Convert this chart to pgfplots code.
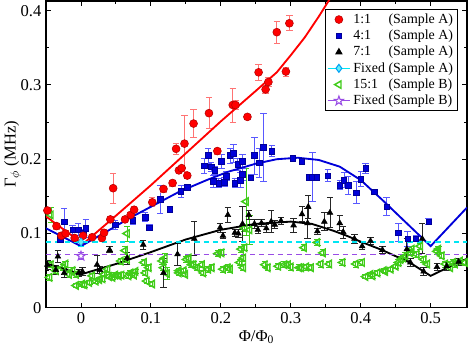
\documentclass[border=0pt]{standalone}
\usepackage{fontspec}
\setmainfont{Liberation Serif}
\usepackage{pgfplots}
\pgfplotsset{compat=1.18}
\usetikzlibrary{plotmarks}

\definecolor{ptred}{rgb}{1,0,0}
\definecolor{errred}{rgb}{1,0.45,0.45}
\definecolor{ptblue}{rgb}{0,0,0.85}
\definecolor{errblue}{rgb}{0.35,0.35,1}
\definecolor{ptgreen}{rgb}{0.25,0.8,0.1}
\definecolor{fixcyan}{rgb}{0,0.9,0.95}
\definecolor{fixpurple}{rgb}{0.6,0.3,0.9}

% five-pointed star outline (MATLAB 'p')
\pgfdeclareplotmark{pentagram}{%
  \pgfpathmoveto{\pgfpointpolar{90}{\pgfplotmarksize}}%
  \pgfpathlineto{\pgfpointpolar{126}{0.4\pgfplotmarksize}}%
  \pgfpathlineto{\pgfpointpolar{162}{\pgfplotmarksize}}%
  \pgfpathlineto{\pgfpointpolar{198}{0.4\pgfplotmarksize}}%
  \pgfpathlineto{\pgfpointpolar{234}{\pgfplotmarksize}}%
  \pgfpathlineto{\pgfpointpolar{270}{0.4\pgfplotmarksize}}%
  \pgfpathlineto{\pgfpointpolar{306}{\pgfplotmarksize}}%
  \pgfpathlineto{\pgfpointpolar{342}{0.4\pgfplotmarksize}}%
  \pgfpathlineto{\pgfpointpolar{18}{\pgfplotmarksize}}%
  \pgfpathlineto{\pgfpointpolar{54}{0.4\pgfplotmarksize}}%
  \pgfpathclose
  \pgfusepathqfillstroke}

\newlength\lw
\begin{document}
\settowidth{\lw}{\fontsize{10.5}{12.5}\selectfont Fixed\ }
\begin{tikzpicture}
\useasboundingbox (-32.25pt,-31.5pt) rectangle (319.5pt,232.5pt);
\begin{axis}[
    scale only axis,
    width=318pt, height=231.75pt,
    xmin=-0.05, xmax=0.552,
    ymin=0, ymax=0.413,
    xtick={0,0.1,0.2,0.3,0.4,0.5},
    ytick={0,0.1,0.2,0.3,0.4},
    minor tick num=1,
    tick align=inside,
    major tick length=4pt, minor tick length=2.5pt,
    axis line style={line width=0.9pt},
    every tick/.style={black, line width=0.7pt},
    /pgf/number format/assume math mode=true,
    ticklabel style={font=\fontsize{12.5}{14}\selectfont},
    label style={font=\fontsize{12.5}{14}\selectfont},
    xlabel={Φ/Φ\textsubscript{0}},
    ylabel={Γ$_\phi$ (MHz)},
    xlabel style={yshift=2pt},
    ylabel style={yshift=-7pt},
    legend style={at={(0.978,0.974)}, anchor=north east, draw=black,
        line width=0.8pt, font=\fontsize{10.5}{12.5}\selectfont,
        cells={anchor=west}, inner sep=1.2pt, row sep=-0.5pt},
    legend cell align=left,
    error bars/error bar style={line width=0.6pt},
    error bars/error mark options={rotate=90, mark size=2.4pt, line width=0.6pt},
]
% legend entries
\addlegendimage{only marks, mark=*, mark size=3pt, mark options={fill=ptred, draw=ptred!70!black, line width=0.4pt}}
\addlegendentry{\makebox[\lw][l]{1:1}(Sample A)}
\addlegendimage{only marks, mark=square*, mark size=2.1pt, mark options={fill=ptblue, draw=ptblue!70!black, line width=0.4pt}}
\addlegendentry{\makebox[\lw][l]{4:1}(Sample A)}
\addlegendimage{only marks, mark=triangle*, mark size=2.5pt, mark options={fill=black, draw=black}}
\addlegendentry{\makebox[\lw][l]{7:1}(Sample A)}
\addlegendimage{fixcyan, line width=0.8pt, mark=diamond*, mark size=3pt, mark options={fill=fixcyan!60, draw=fixcyan!70!blue, solid}}
\addlegendentry{Fixed (Sample A)}
\addlegendimage{only marks, mark=triangle, mark size=3.2pt, mark options={draw=ptgreen, rotate=90, line width=1.1pt}}
\addlegendentry{\makebox[\lw][l]{15:1}(Sample B)}
\addlegendimage{fixpurple, line width=0.8pt, mark=pentagram, mark size=3.6pt, mark options={fill=white, draw=fixpurple, line width=0.8pt, solid}}
\addlegendentry{Fixed (Sample B)}

% 15:1 sample B
\addplot[forget plot, only marks, mark=triangle, mark size=3.2pt,
    mark options={draw=ptgreen, rotate=90, line width=1.1pt},
    error bars/.cd, y dir=both, y explicit,
    error bar style={ptgreen}, error mark options={ptgreen, rotate=90, mark size=2.4pt, line width=0.6pt}]
coordinates {
(-0.043,0.125)+-(0,0.010) (-0.045,0.041)+-(0,0.004) (-0.043,0.058)+-(0,0.004)
(-0.036,0.050)+-(0,0.004) (-0.026,0.054)+-(0,0.004) (-0.022,0.059)+-(0,0.004)
(-0.017,0.045)+-(0,0.004) (-0.012,0.050)+-(0,0.004) (-0.007,0.045)+-(0,0.004)
(-0.007,0.030)+-(0,0.003) (0.002,0.032)+-(0,0.003) (0.005,0.031)+-(0,0.003)
(0.012,0.034)+-(0,0.003) (0.016,0.043)+-(0,0.003) (0.021,0.036)+-(0,0.003)
(0.026,0.038)+-(0,0.003) (0.031,0.039)+-(0,0.003) (0.033,0.045)+-(0,0.003)
(0.038,0.052)+-(0,0.004) (0.040,0.042)+-(0,0.003) (0.045,0.041)+-(0,0.003)
(0.049,0.044)+-(0,0.003) (0.054,0.043)+-(0,0.003) (0.057,0.063)+-(0,0.004)
(0.058,0.044)+-(0,0.003) (0.063,0.077)+-(0,0.005) (0.066,0.100)+-(0,0.010)
(0.066,0.065)+-(0,0.004) (0.068,0.043)+-(0,0.003) (0.071,0.047)+-(0,0.003)
(0.076,0.044)+-(0,0.003) (0.078,0.049)+-(0,0.003) (0.090,0.061)+-(0,0.004)
(0.092,0.047)+-(0,0.003) (0.094,0.036)+-(0,0.003) (0.097,0.054)+-(0,0.004)
(0.102,0.032)+-(0,0.003) (0.116,0.063)+-(0,0.004) (0.118,0.054)+-(0,0.004)
(0.120,0.067)+-(0,0.006) (0.123,0.046)+-(0,0.008) (0.140,0.047)+-(0,0.003)
(0.140,0.050)+-(0,0.003) (0.147,0.050)+-(0,0.003) (0.149,0.045)+-(0,0.003)
(0.151,0.065)+-(0,0.004) (0.154,0.067)+-(0,0.004) (0.158,0.058)+-(0,0.004)
(0.161,0.058)+-(0,0.004) (0.166,0.054)+-(0,0.004) (0.173,0.058)+-(0,0.004)
(0.175,0.047)+-(0,0.003) (0.182,0.052)+-(0,0.004) (0.187,0.054)+-(0,0.004)
(0.196,0.073)+-(0,0.004) (0.201,0.074)+-(0,0.004) (0.203,0.052)+-(0,0.004)
(0.210,0.054)+-(0,0.004) (0.213,0.052)+-(0,0.004) (0.227,0.061)+-(0,0.004)
(0.229,0.079)+-(0,0.004) (0.232,0.054)+-(0,0.004) (0.232,0.067)+-(0,0.004)
(0.234,0.081)+-(0,0.004) (0.234,0.107)+-(0,0.004) (0.236,0.143)+-(0,0.045)
(0.241,0.105)+-(0,0.020) (0.263,0.058)+-(0,0.004) (0.267,0.054)+-(0,0.004)
(0.282,0.056)+-(0,0.004) (0.291,0.058)+-(0,0.004) (0.296,0.058)+-(0,0.004)
(0.300,0.055)+-(0,0.004) (0.312,0.054)+-(0,0.004) (0.315,0.054)+-(0,0.004)
(0.319,0.081)+-(0,0.004) (0.322,0.055)+-(0,0.004) (0.329,0.054)+-(0,0.004)
(0.338,0.088)+-(0,0.004) (0.343,0.059)+-(0,0.004) (0.346,0.074)+-(0,0.004)
(0.355,0.059)+-(0,0.004) (0.374,0.061)+-(0,0.004) (0.393,0.059)+-(0,0.004)
(0.402,0.061)+-(0,0.004) (0.407,0.042)+-(0,0.003) (0.414,0.045)+-(0,0.003)
(0.417,0.043)+-(0,0.003) (0.424,0.047)+-(0,0.003) (0.433,0.050)+-(0,0.003)
(0.435,0.049)+-(0,0.003) (0.443,0.052)+-(0,0.003) (0.450,0.056)+-(0,0.003)
(0.454,0.061)+-(0,0.004) (0.457,0.065)+-(0,0.004) (0.461,0.067)+-(0,0.004)
(0.464,0.070)+-(0,0.004) (0.471,0.074)+-(0,0.004) (0.473,0.079)+-(0,0.004)
(0.480,0.072)+-(0,0.004) (0.485,0.083)+-(0,0.004) (0.490,0.065)+-(0,0.004)
(0.495,0.059)+-(0,0.004) (0.509,0.076)+-(0,0.004) (0.511,0.079)+-(0,0.004)
(0.516,0.070)+-(0,0.004) (0.521,0.059)+-(0,0.004) (0.528,0.054)+-(0,0.004)
(0.532,0.061)+-(0,0.004) (0.535,0.059)+-(0,0.004) (0.542,0.063)+-(0,0.004)
(0.549,0.061)+-(0,0.004)
};

% 7:1 sample A
\addplot[forget plot, only marks, mark=triangle*, mark size=2.5pt,
    mark options={fill=black, draw=black},
    error bars/.cd, y dir=both, y explicit,
    error bar style={black!85}, error mark options={black!85, rotate=90, mark size=2.4pt, line width=0.6pt}]
coordinates {
(-0.048,0.058)+-(0,0.006) (-0.033,0.069)+-(0,0.008) (-0.036,0.051)+-(0,0.006)
(-0.024,0.047)+-(0,0.006) (-0.003,0.047)+-(0,0.005) (0.002,0.049)+-(0,0.005)
(0.023,0.058)+-(0,0.012) (0.027,0.051)+-(0,0.005) (0.041,0.078)+-(0,0.004)
(0.066,0.067)+-(0,0.008) (0.089,0.085)+-(0,0.006) (0.118,0.047)+-(0,0.020)
(0.138,0.072)+-(0,0.015) (0.162,0.093)+-(0,0.023) (0.199,0.108)+-(0,0.006)
(0.203,0.097)+-(0,0.004) (0.210,0.125)+-(0,0.010) (0.220,0.101)+-(0,0.005)
(0.225,0.100)+-(0,0.005) (0.231,0.113)+-(0,0.023) (0.240,0.125)+-(0,0.006)
(0.248,0.113)+-(0,0.006) (0.253,0.105)+-(0,0.005) (0.258,0.114)+-(0,0.005)
(0.265,0.107)+-(0,0.005) (0.272,0.116)+-(0,0.015) (0.277,0.112)+-(0,0.005)
(0.286,0.117)+-(0,0.005) (0.304,0.111)+-(0,0.010) (0.316,0.126)+-(0,0.010)
(0.325,0.136)+-(0,0.015) (0.324,0.114)+-(0,0.020) (0.338,0.103)+-(0,0.004)
(0.348,0.116)+-(0,0.012) (0.356,0.128)+-(0,0.020) (0.370,0.114)+-(0,0.010)
(0.375,0.102)+-(0,0.008) (0.391,0.093)+-(0,0.006) (0.402,0.083)+-(0,0.005)
(0.414,0.090)+-(0,0.005) (0.431,0.078)+-(0,0.005) (0.466,0.079)+-(0,0.015)
(0.471,0.061)+-(0,0.005) (0.488,0.093)+-(0,0.020) (0.490,0.049)+-(0,0.005)
(0.509,0.055)+-(0,0.005) (0.523,0.056)+-(0,0.005) (0.540,0.062)+-(0,0.005)
};

% 4:1 sample A
\addplot[forget plot, only marks, mark=square*, mark size=2.1pt,
    mark options={fill=ptblue, draw=ptblue!70!black, line width=0.4pt},
    error bars/.cd, y dir=both, y explicit,
    error bar style={errblue}, error mark options={errblue, rotate=90, mark size=2.4pt, line width=0.6pt}]
coordinates {
(-0.030,0.092)+-(0,0.004) (-0.024,0.116)+-(0,0.018) (-0.012,0.105)+-(0,0.006)
(-0.004,0.105)+-(0,0.008) (0.003,0.101)+-(0,0.004) (0.007,0.107)+-(0,0.012)
(0.049,0.112)+-(0,0.006) (0.074,0.118)+-(0,0.006) (0.092,0.122)+-(0,0.006)
(0.098,0.108)+-(0,0.004) (0.113,0.146)+-(0,0.019) (0.127,0.133)+-(0,0.004)
(0.143,0.157)+-(0,0.008) (0.152,0.162)+-(0,0.004) (0.176,0.191)+-(0,0.010)
(0.182,0.205)+-(0,0.010) (0.186,0.190)+-(0,0.006) (0.189,0.170)+-(0,0.008)
(0.191,0.185)+-(0,0.006) (0.197,0.168)+-(0,0.006) (0.201,0.197)+-(0,0.010)
(0.205,0.169)+-(0,0.006) (0.208,0.177)+-(0,0.006) (0.213,0.205)+-(0,0.010)
(0.218,0.208)+-(0,0.012) (0.220,0.168)+-(0,0.006) (0.224,0.193)+-(0,0.008)
(0.228,0.172)+-(0,0.010) (0.231,0.197)+-(0,0.010) (0.231,0.180)+-(0,0.008)
(0.243,0.175)+-(0,0.004) (0.248,0.205)+-(0,0.025) (0.255,0.195)+-(0,0.020)
(0.261,0.216)+-(0,0.046) (0.273,0.211)+-(0,0.007) (0.303,0.201)+-(0,0.003)
(0.316,0.197)+-(0,0.003) (0.326,0.176)+-(0,0.004) (0.331,0.176)+-(0,0.033)
(0.337,0.176)+-(0,0.004) (0.353,0.178)+-(0,0.008) (0.370,0.165)+-(0,0.006)
(0.376,0.172)+-(0,0.010) (0.382,0.165)+-(0,0.012) (0.394,0.155)+-(0,0.015)
(0.400,0.173)+-(0,0.010) (0.407,0.188)+-(0,0.007) (0.419,0.156)+-(0,0.004)
(0.437,0.136)+-(0,0.012) (0.454,0.101)+-(0,0.012) (0.467,0.093)+-(0,0.010)
(0.479,0.093)+-(0,0.004) (0.497,0.116)+-(0,0.004)
};

% 1:1 sample A
\addplot[forget plot, only marks, mark=*, mark size=3pt,
    mark options={fill=ptred, draw=ptred!70!black, line width=0.4pt},
    error bars/.cd, y dir=both, y explicit,
    error bar style={errred}, error mark options={errred, rotate=90, mark size=2.4pt, line width=0.6pt}]
coordinates {
(-0.048,0.131)+-(0,0.004) (-0.035,0.110)+-(0,0.004) (-0.028,0.097)+-(0,0.004)
(-0.022,0.100)+-(0,0.004) (-0.009,0.094)+-(0,0.004) (0.003,0.097)+-(0,0.004)
(0.016,0.095)+-(0,0.004) (0.030,0.094)+-(0,0.004) (0.033,0.101)+-(0,0.004)
(0.042,0.119)+-(0,0.004) (0.046,0.161)+-(0,0.020) (0.063,0.119)+-(0,0.004)
(0.071,0.125)+-(0,0.004) (0.076,0.132)+-(0,0.004) (0.102,0.142)+-(0,0.006)
(0.118,0.160)+-(0,0.004) (0.131,0.168)+-(0,0.004) (0.136,0.214)+-(0,0.007)
(0.140,0.185)+-(0,0.004) (0.144,0.188)+-(0,0.004) (0.148,0.221)+-(0,0.038)
(0.152,0.178)+-(0,0.004) (0.161,0.248)+-(0,0.019) (0.183,0.262)+-(0,0.021)
(0.195,0.211)+-(0,0.004) (0.217,0.273)+-(0,0.023) (0.221,0.273)+-(0,0.006)
(0.238,0.257)+-(0,0.004) (0.254,0.317)+-(0,0.011) (0.264,0.294)+-(0,0.005)
(0.268,0.304)+-(0,0.006) (0.280,0.371)+-(0,0.015) (0.293,0.318)+-(0,0.006)
(0.298,0.383)+-(0,0.010)
};

% fitted curves
\addplot[forget plot, ptred, line width=1.4pt] coordinates {
(-0.05,0.123) (0.003,0.086) (0.05,0.124) (0.1,0.165) (0.15,0.208) (0.2,0.251)
(0.25,0.292) (0.28,0.317) (0.3,0.340) (0.32,0.364) (0.34,0.392) (0.36,0.422)
};
\addplot[forget plot, ptblue, line width=1.4pt] coordinates {
(-0.05,0.107) (0,0.083) (0.03,0.099) (0.07,0.121) (0.1,0.136) (0.14,0.156)
(0.18,0.172) (0.21,0.183) (0.25,0.194) (0.28,0.200) (0.31,0.202) (0.34,0.199)
(0.37,0.190) (0.4,0.172) (0.43,0.146) (0.46,0.119) (0.48,0.101) (0.5,0.083)
(0.552,0.135)
};
\addplot[forget plot, black, line width=1.4pt] coordinates {
(-0.05,0.060) (0,0.045) (0.05,0.059) (0.1,0.075) (0.15,0.092) (0.2,0.105)
(0.25,0.113) (0.3,0.116) (0.33,0.113) (0.36,0.104) (0.38,0.097) (0.4,0.089)
(0.43,0.078) (0.47,0.061) (0.5,0.043) (0.535,0.059) (0.552,0.066)
};

% fixed-frequency references
\addplot[forget plot, fixcyan, line width=0.9pt, dash pattern=on 4pt off 3pt]
    coordinates {(-0.05,0.0885) (0.552,0.0885)};
\addplot[forget plot, fixpurple, line width=0.9pt, dash pattern=on 4pt off 3pt]
    coordinates {(-0.05,0.0718) (0.552,0.0718)};
\addplot[forget plot, only marks, mark=diamond*, mark size=3pt,
    mark options={fill=fixcyan!60, draw=fixcyan!70!blue},
    error bars/.cd, y dir=both, y explicit,
    error bar style={fixcyan}, error mark options={fixcyan, rotate=90, mark size=2.4pt, line width=0.6pt}]
coordinates {(0,0.0888)+-(0,0.006)};
\addplot[forget plot, only marks, mark=pentagram, mark size=3.6pt,
    mark options={fill=white, draw=fixpurple, line width=0.8pt},
    error bars/.cd, y dir=both, y explicit,
    error bar style={fixpurple}, error mark options={fixpurple, rotate=90, mark size=2.4pt, line width=0.6pt}]
coordinates {(0,0.0697)+-(0,0.005)};
\end{axis}
\end{tikzpicture}
\end{document}
